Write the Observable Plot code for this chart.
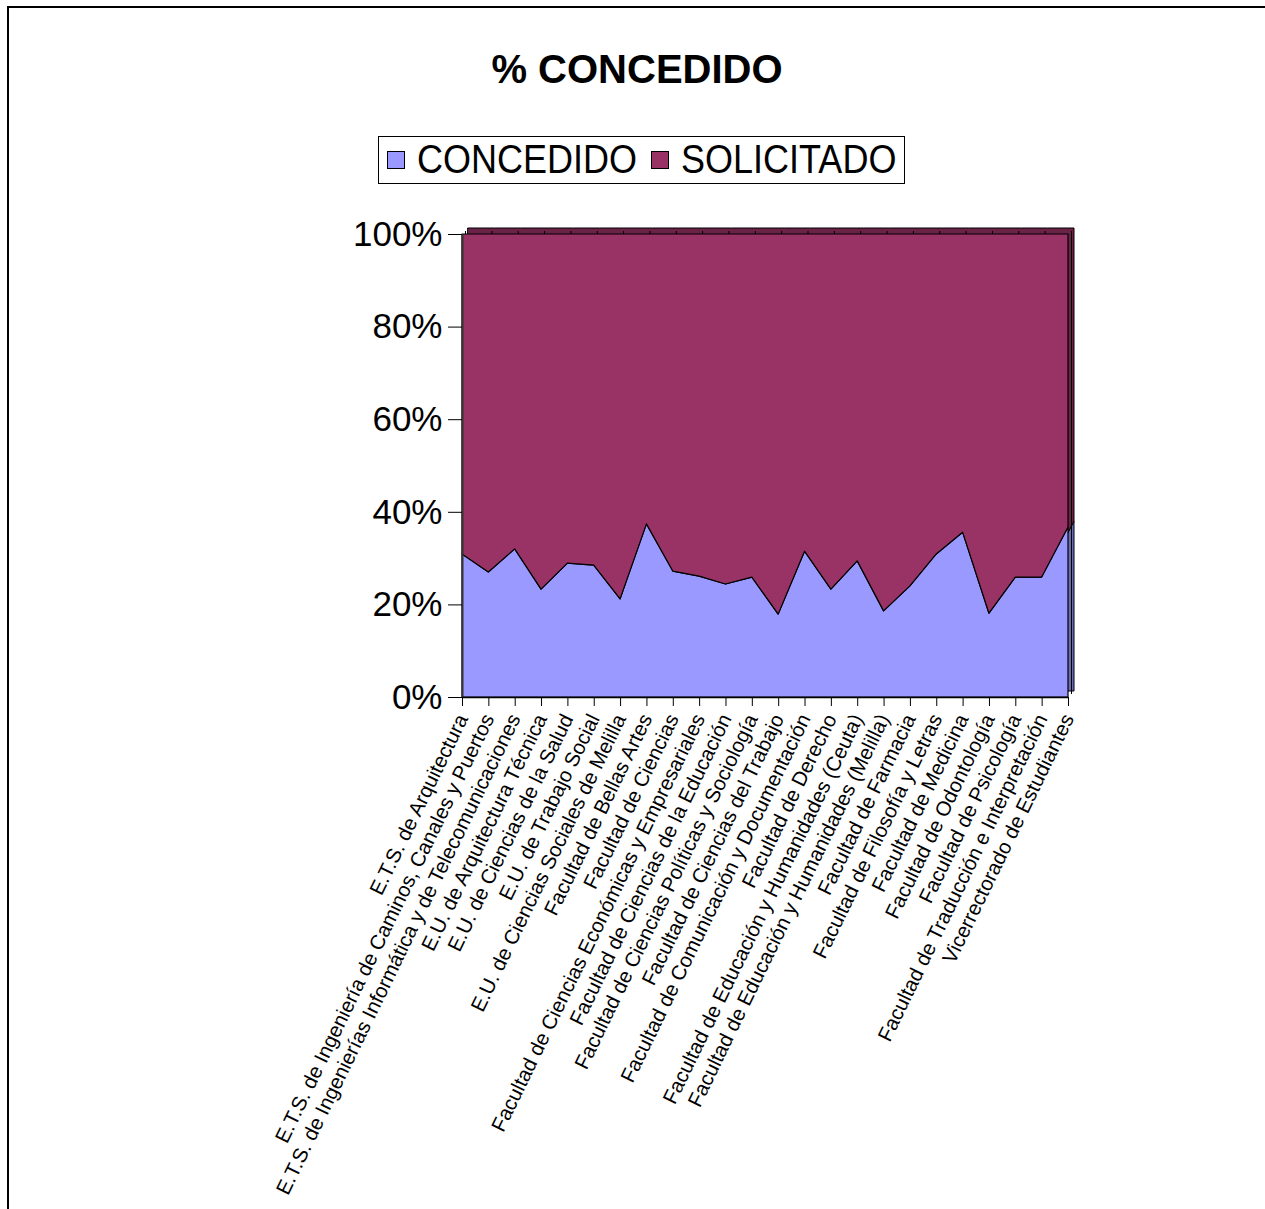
<!DOCTYPE html>
<html><head><meta charset="utf-8">
<script src="https://cdn.jsdelivr.net/npm/d3@7"></script>
<script src="https://cdn.jsdelivr.net/npm/@observablehq/plot@0.6"></script>
<style>
html,body{margin:0;padding:0;background:#fff;overflow:hidden;width:1265px;height:1209px;}
body{font-family:"Liberation Sans",Arial,sans-serif;color:#000;position:relative;}
#hline{position:absolute;left:7px;top:6px;width:1258px;height:2px;background:#000;}
#vline{position:absolute;left:7px;top:6px;width:2px;height:1203px;background:#000;}
#title{position:absolute;left:0;width:1274px;top:49px;line-height:40px;text-align:center;font-weight:bold;font-size:40px;}
#legend{position:absolute;left:378px;top:136px;width:527px;height:48px;border:1px solid #000;box-sizing:border-box;display:flex;align-items:center;font-size:36px;background:#fff;}
#legend .sw{display:inline-block;width:18px;height:18px;border:1px solid #000;box-sizing:border-box;}
#legend .it{display:flex;align-items:center;}
#legend .tx{display:inline-block;transform:scaleY(1.12);}
#chart{position:absolute;left:0;top:200px;}
</style></head>
<body>
<div id="hline"></div>
<div id="vline"></div>
<div id="title">% CONCEDIDO</div>
<div id="legend"></div>
<div id="chart"></div>
<script>
const categories = [
  "E.T.S. de Arquitectura",
  "E.T.S. de Ingeniería de Caminos, Canales y Puertos",
  "E.T.S. de Ingenierías Informática y de Telecomunicaciones",
  "E.U. de Arquitectura Técnica",
  "E.U. de Ciencias de la Salud",
  "E.U. de Trabajo Social",
  "E.U. de Ciencias Sociales de Melilla",
  "Facultad de Bellas Artes",
  "Facultad de Ciencias",
  "Facultad de Ciencias Económicas y Empresariales",
  "Facultad de Ciencias de la Educación",
  "Facultad de Ciencias Políticas y Sociología",
  "Facultad de Ciencias del Trabajo",
  "Facultad de Comunicación y Documentación",
  "Facultad de Derecho",
  "Facultad de Educación y Humanidades (Ceuta)",
  "Facultad de Educación y Humanidades (Melilla)",
  "Facultad de Farmacia",
  "Facultad de Filosofía y Letras",
  "Facultad de Medicina",
  "Facultad de Odontología",
  "Facultad de Psicología",
  "Facultad de Traducción e Interpretación",
  "Vicerrectorado de Estudiantes"
];
const concedido = [30.9, 27.0, 32.0, 23.3, 28.9, 28.5, 21.2, 37.4, 27.2, 26.1, 24.4, 25.9, 17.9, 31.5, 23.3, 29.4, 18.6, 24.0, 30.9, 35.6, 18.1, 25.9, 25.9, 36.7];
const solicitado = [69.1, 73.0, 68.0, 76.7, 71.1, 71.5, 78.8, 62.6, 72.8, 73.9, 75.6, 74.1, 82.1, 68.5, 76.7, 70.6, 81.4, 76.0, 69.1, 64.4, 81.9, 74.1, 74.1, 63.3];
const seriesNames = ["CONCEDIDO", "SOLICITADO"];
const seriesColors = ["#9999FF", "#993366"];
const yTicks = [0, 0.2, 0.4, 0.6, 0.8, 1];

const rows = [];
categories.forEach((c, i) => {
  rows.push({i, cat: c, series: "CONCEDIDO", value: concedido[i]});
  rows.push({i, cat: c, series: "SOLICITADO", value: solicitado[i]});
});

const stackOpts = {x: "i", y: "value", z: "series", offset: "normalize", order: seriesNames};

const chart = Plot.plot({
  width: 1265,
  height: 1000,
  marginLeft: 462,
  marginRight: 197,
  marginTop: 34,
  marginBottom: 503,
  style: {fontFamily: '"Liberation Sans", Arial, sans-serif', color: "#000", background: "transparent", overflow: "visible"},
  x: {type: "linear", domain: [0, categories.length - 1]},
  y: {domain: [0, 1]},
  color: {domain: seriesNames, range: seriesColors},
  marks: [
    // 3D depth (back faces)
    Plot.areaY(rows, Plot.stackY({...stackOpts, fill: "series", dx: 6, dy: -6, stroke: "#000", strokeWidth: 1})),
    Plot.areaY(rows, Plot.stackY({...stackOpts, fill: "#000", fillOpacity: 0.3, dx: 6, dy: -6})),
    Plot.tickX(d3.range(categories.length), {x: d => d, y1: () => 1, y2: () => 1, stroke: "#000", dx: 3, dy: -3}),
    // front faces
    Plot.areaY(rows, Plot.stackY({...stackOpts, fill: "series", stroke: "#000", strokeWidth: 1.2})),
    Plot.ruleX([0], {y1: 0, y2: 1, stroke: "#333", strokeWidth: 2}),
    Plot.ruleY([0], {stroke: "#000", strokeWidth: 1.5}),
    Plot.axisY({ticks: yTicks, tickFormat: d3.format(".0%"), tickSize: 14, tickPadding: 6, fontSize: 35, label: null}),
    Plot.axisX({ticks: d3.range(categories.length), tickFormat: i => categories[i], tickRotate: -64, fontSize: 20.5, tickSize: 9, tickPadding: 9, label: null})
  ]
});
document.getElementById("chart").appendChild(chart);

const legend = document.getElementById("legend");
seriesNames.forEach((s, k) => {
  const it = document.createElement("span");
  it.className = "it";
  it.style.marginLeft = k === 0 ? "8px" : "14px";
  const sw = document.createElement("span");
  sw.className = "sw";
  sw.style.background = seriesColors[k];
  sw.style.marginRight = "12px";
  const tx = document.createElement("span");
  tx.className = "tx";
  tx.textContent = s;
  it.appendChild(sw); it.appendChild(tx);
  legend.appendChild(it);
});
</script>
</body></html>
